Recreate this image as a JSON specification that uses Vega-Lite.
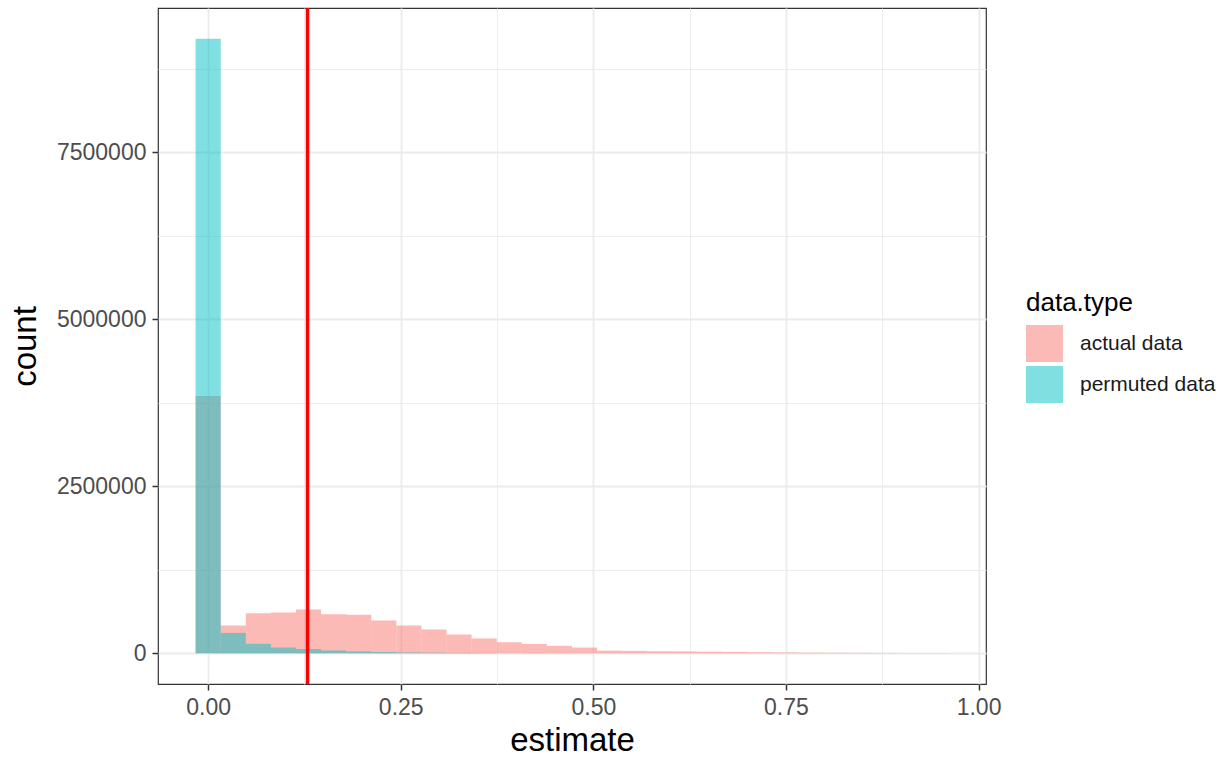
{
  "$schema": "https://vega.github.io/schema/vega-lite/v6.json",
  "width": 828,
  "height": 676,
  "autosize": {"type": "none"},
  "padding": {"left": 158, "top": 8, "right": 239, "bottom": 75},
  "background": "white",
  "config": {
    "font": "Liberation Sans",
    "view": {"stroke": "#333333", "strokeWidth": 1.2},
    "axis": {"domain": false, "titleFontWeight": "normal", "labelFont": "Liberation Sans", "titleFont": "Liberation Sans"}
  },
  "datasets": {
    "hist": [
      {"lo": -0.0163, "hi": 0.0163, "type": "actual data", "count": 3850000},
      {"lo": 0.0163, "hi": 0.0489, "type": "actual data", "count": 416000},
      {"lo": 0.0489, "hi": 0.0814, "type": "actual data", "count": 600000},
      {"lo": 0.0814, "hi": 0.1140, "type": "actual data", "count": 610000},
      {"lo": 0.1140, "hi": 0.1466, "type": "actual data", "count": 656000},
      {"lo": 0.1466, "hi": 0.1791, "type": "actual data", "count": 583000},
      {"lo": 0.1791, "hi": 0.2117, "type": "actual data", "count": 575000},
      {"lo": 0.2117, "hi": 0.2443, "type": "actual data", "count": 491000},
      {"lo": 0.2443, "hi": 0.2768, "type": "actual data", "count": 416000},
      {"lo": 0.2768, "hi": 0.3094, "type": "actual data", "count": 356000},
      {"lo": 0.3094, "hi": 0.3420, "type": "actual data", "count": 281000},
      {"lo": 0.3420, "hi": 0.3746, "type": "actual data", "count": 222000},
      {"lo": 0.3746, "hi": 0.4071, "type": "actual data", "count": 165000},
      {"lo": 0.4071, "hi": 0.4397, "type": "actual data", "count": 140000},
      {"lo": 0.4397, "hi": 0.4723, "type": "actual data", "count": 112000},
      {"lo": 0.4723, "hi": 0.5048, "type": "actual data", "count": 85000},
      {"lo": 0.5048, "hi": 0.5374, "type": "actual data", "count": 40000},
      {"lo": 0.5374, "hi": 0.5700, "type": "actual data", "count": 36000},
      {"lo": 0.5700, "hi": 0.6025, "type": "actual data", "count": 32000},
      {"lo": 0.6025, "hi": 0.6351, "type": "actual data", "count": 28000},
      {"lo": 0.6351, "hi": 0.6677, "type": "actual data", "count": 24000},
      {"lo": 0.6677, "hi": 0.7003, "type": "actual data", "count": 20000},
      {"lo": 0.7003, "hi": 0.7328, "type": "actual data", "count": 16000},
      {"lo": 0.7328, "hi": 0.7654, "type": "actual data", "count": 13000},
      {"lo": 0.7654, "hi": 0.7980, "type": "actual data", "count": 10000},
      {"lo": 0.7980, "hi": 0.8305, "type": "actual data", "count": 8000},
      {"lo": 0.8305, "hi": 0.8631, "type": "actual data", "count": 6000},
      {"lo": 0.8631, "hi": 0.8957, "type": "actual data", "count": 4000},
      {"lo": 0.8957, "hi": 0.9282, "type": "actual data", "count": 3000},
      {"lo": 0.9282, "hi": 0.9608, "type": "actual data", "count": 2000},
      {"lo": -0.0163, "hi": 0.0163, "type": "permuted data", "count": 9200000},
      {"lo": 0.0163, "hi": 0.0489, "type": "permuted data", "count": 305000},
      {"lo": 0.0489, "hi": 0.0814, "type": "permuted data", "count": 142000},
      {"lo": 0.0814, "hi": 0.1140, "type": "permuted data", "count": 87000},
      {"lo": 0.1140, "hi": 0.1466, "type": "permuted data", "count": 63000},
      {"lo": 0.1466, "hi": 0.1791, "type": "permuted data", "count": 42000},
      {"lo": 0.1791, "hi": 0.2117, "type": "permuted data", "count": 28000},
      {"lo": 0.2117, "hi": 0.2443, "type": "permuted data", "count": 18000},
      {"lo": 0.2443, "hi": 0.2768, "type": "permuted data", "count": 12000},
      {"lo": 0.2768, "hi": 0.3094, "type": "permuted data", "count": 8000},
      {"lo": 0.3094, "hi": 0.3420, "type": "permuted data", "count": 5000},
      {"lo": 0.3420, "hi": 0.3746, "type": "permuted data", "count": 3000},
      {"lo": 0.3746, "hi": 0.4071, "type": "permuted data", "count": 2000},
      {"lo": 0.4071, "hi": 0.4397, "type": "permuted data", "count": 1000},
      {"lo": 0.4397, "hi": 0.4723, "type": "permuted data", "count": 600},
      {"lo": 0.4723, "hi": 0.5048, "type": "permuted data", "count": 400}
    ],
    "vline": [{"x": 0.129}]
  },
  "layer": [
    {
      "data": {"name": "hist"},
      "mark": {"type": "bar", "opacity": 0.5},
      "encoding": {
        "x": {
          "field": "lo", "type": "quantitative",
          "scale": {"domain": [-0.0651, 1.0097], "nice": false, "zero": false, "padding": 0},
          "axis": {
            "orient": "bottom",
            "values": [0, 0.25, 0.5, 0.75, 1], "format": ".2f",
            "grid": true, "gridColor": "#EBEBEB", "gridWidth": 1.8,
            "tickColor": "#333333", "tickSize": 6, "tickWidth": 1.5,
            "labelFontSize": 23, "labelColor": "#4D4D4D", "labelPadding": 6,
            "title": "estimate", "titleFontSize": 33, "titleColor": "black", "titlePadding": 5
          }
        },
        "x2": {"field": "hi"},
        "y": {
          "field": "count", "type": "quantitative", "stack": null,
          "scale": {"domain": [-460000, 9660000], "nice": false, "zero": false, "padding": 0},
          "axis": {
            "orient": "left",
            "values": [0, 2500000, 5000000, 7500000], "format": "d",
            "grid": true, "gridColor": "#EBEBEB", "gridWidth": 1.8,
            "tickColor": "#333333", "tickSize": 6, "tickWidth": 1.5,
            "labelFontSize": 23, "labelColor": "#4D4D4D", "labelPadding": 6,
            "title": "count", "titleFontSize": 33, "titleColor": "black", "titlePadding": 14
          }
        },
        "y2": {"datum": 0},
        "color": {
          "field": "type", "type": "nominal",
          "scale": {"domain": ["actual data", "permuted data"], "range": ["#F8766D", "#00BFC4"]},
          "legend": {
            "title": "data.type", "orient": "none", "legendX": 868, "legendY": 282,
            "padding": 0, "symbolType": "square", "symbolSize": 1369,
            "symbolOpacity": 0.5, "symbolStrokeWidth": 0,
            "labelFontSize": 21, "labelColor": "#1A1A1A", "labelOffset": 17,
            "titleFontSize": 26, "titleFontWeight": "normal", "titleColor": "black",
            "titlePadding": 9, "rowPadding": 4
          }
        }
      }
    },
    {
      "data": {"name": "vline"},
      "mark": {"type": "rule", "color": "#FF0000", "strokeWidth": 3.5},
      "encoding": {
        "x": {
          "field": "x", "type": "quantitative",
          "scale": {"domain": [-0.0651, 1.0097], "nice": false, "zero": false, "padding": 0},
          "axis": {
            "orient": "bottom", "values": [0.125, 0.375, 0.625, 0.875],
            "grid": true, "gridColor": "#EBEBEB", "gridWidth": 0.9,
            "ticks": false, "labels": false, "domain": false, "title": null
          }
        },
        "y": {
          "datum": -460000, "type": "quantitative",
          "scale": {"domain": [-460000, 9660000], "nice": false, "zero": false, "padding": 0},
          "axis": {
            "orient": "left", "values": [1250000, 3750000, 6250000, 8750000],
            "grid": true, "gridColor": "#EBEBEB", "gridWidth": 0.9,
            "ticks": false, "labels": false, "domain": false, "title": null
          }
        },
        "y2": {"datum": 9660000}
      }
    }
  ],
  "resolve": {"axis": {"x": "independent", "y": "independent"}}
}
